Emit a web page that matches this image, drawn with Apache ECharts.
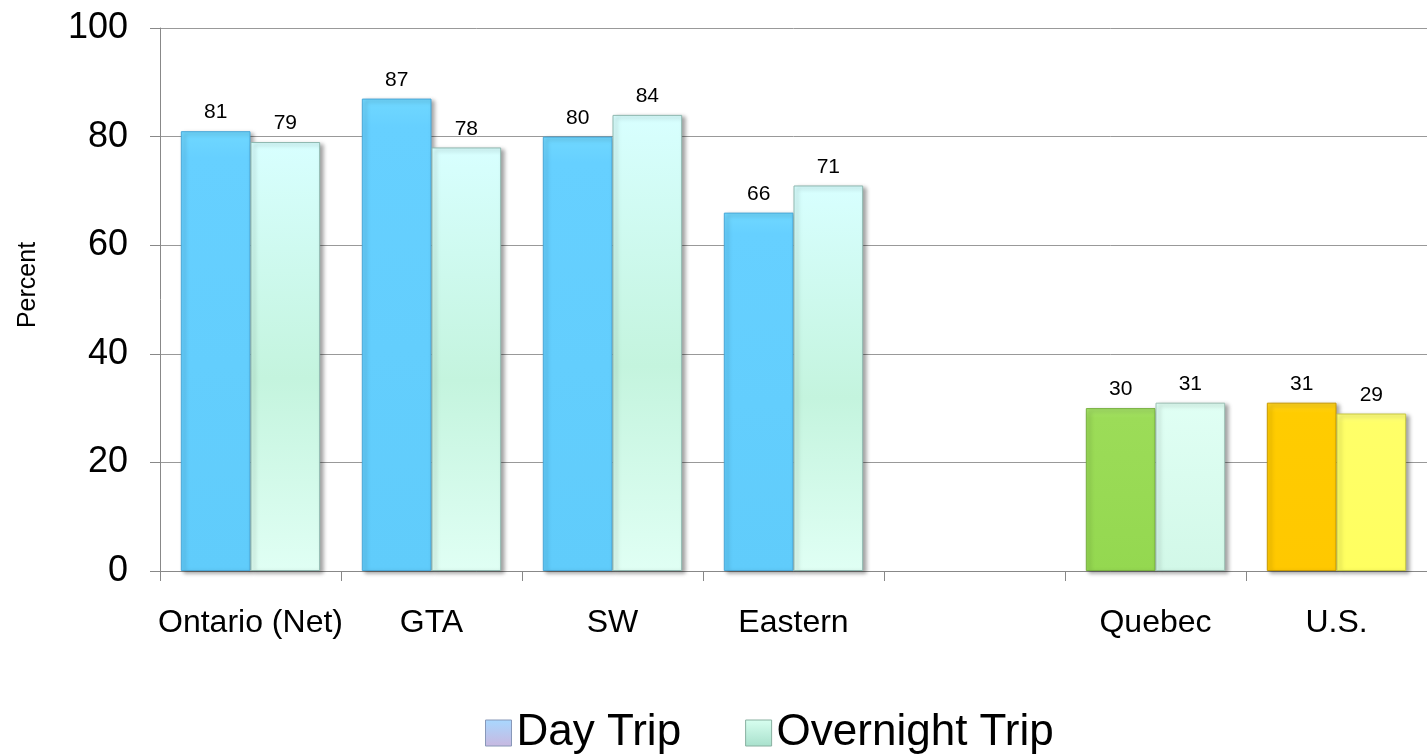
<!DOCTYPE html>
<html>
<head>
<meta charset="utf-8">
<script src="https://cdn.jsdelivr.net/npm/echarts@6/dist/echarts.min.js"></script>
<style>
html,body{margin:0;padding:0;background:#fff;}
#chart{width:1427px;height:756px;}
</style>
</head>
<body>
<div id="chart"></div>
<script>
var categories = ['Ontario (Net)', 'GTA', 'SW', 'Eastern', '', 'Quebec', 'U.S.'];
var dayTrip = [81, 87, 80, 66, null, 30, 31];
var overnightTrip = [79, 78, 84, 71, null, 31, 29];
var yTicks = [0, 20, 40, 60, 80, 100];
var seriesNames = ['Day Trip', 'Overnight Trip'];
var axisName = 'Percent';

var FONT = 'Liberation Sans, Arial, sans-serif';
function vgrad(stops) {
  return new echarts.graphic.LinearGradient(0, 0, 0, 1, stops.map(function (s) { return { offset: s[0], color: s[1] }; }));
}
var blue = vgrad([[0, '#70D8FF'], [0.06, '#66D0FF'], [1, '#60CCFB']]);
var cyan = vgrad([[0, '#D8FFFF'], [0.55, '#C4F4DE'], [1, '#E0FFF4']]);
var greenQ = vgrad([[0, '#A6E468'], [0.06, '#9CDC58'], [1, '#94D850']]);
var cyanQ = vgrad([[0, '#E0FFF4'], [1, '#D2F8E8']]);
var orange = vgrad([[0, '#FFD420'], [0.06, '#FFCC00'], [1, '#FFC800']]);
var yellow = vgrad([[0, '#FFFF80'], [0.06, '#FFFF68'], [1, '#FFFF60']]);

var dayColors = [blue, blue, blue, blue, blue, greenQ, orange];
var dayBorders = ['#4AA8D8', '#4AA8D8', '#4AA8D8', '#4AA8D8', '#4AA8D8', '#78B040', '#C89A00'];
var ovColors = [cyan, cyan, cyan, cyan, cyan, cyanQ, yellow];
var ovBorders = ['#8FB8B0', '#8FB8B0', '#8FB8B0', '#8FB8B0', '#8FB8B0', '#9CC0B4', '#C8C840'];

function build(vals, colors, borders) {
  return vals.map(function (v, i) {
    return {
      value: v === null ? '-' : v,
      itemStyle: { color: colors[i], borderColor: borders[i], borderWidth: 1 }
    };
  });
}

var shadow = { shadowColor: 'rgba(0,0,0,0.35)', shadowBlur: 4, shadowOffsetX: 3, shadowOffsetY: 2 };
var labelStyle = { show: true, position: 'top', distance: 8, fontSize: 21, color: '#000', fontFamily: FONT };

var chart = echarts.init(document.getElementById('chart'), null, { renderer: 'canvas' });
chart.setOption({
  animation: false,
  backgroundColor: '#fff',
  textStyle: { fontFamily: FONT },
  grid: { left: 160, right: -10, top: 28, bottom: 185, containLabel: false },
  graphic: [{
    type: 'text',
    x: 28,
    y: 285,
    rotation: Math.PI / 2,
    style: { text: axisName, fontSize: 25, fill: '#000', align: 'center', verticalAlign: 'middle', fontFamily: FONT }
  }],
  legend: {
    left: 480,
    top: 706,
    itemWidth: 26,
    itemHeight: 26,
    itemGap: 64,
    icon: 'rect',
    textStyle: { fontSize: 44, color: '#000', fontFamily: FONT },
    data: [
      { name: seriesNames[0], itemStyle: { color: vgrad([[0, '#A8D8FF'], [1, '#C8B8E0']]), borderColor: '#8898B8', borderWidth: 1 } },
      { name: seriesNames[1], itemStyle: { color: vgrad([[0, '#D8FFF0'], [1, '#A8E0CC']]), borderColor: '#88B0A0', borderWidth: 1 } }
    ]
  },
  xAxis: {
    type: 'category',
    data: categories,
    axisLine: { lineStyle: { color: '#888', width: 1 } },
    axisTick: { show: true, length: 10, lineStyle: { color: '#888' } },
    axisLabel: { interval: 0, fontSize: 32, color: '#000', margin: 36, fontFamily: FONT }
  },
  yAxis: {
    type: 'value',
    min: yTicks[0],
    max: yTicks[yTicks.length - 1],
    interval: 20,
    axisLine: { show: true, lineStyle: { color: '#888', width: 1 } },
    axisTick: { show: true, length: 10, lineStyle: { color: '#888' } },
    axisLabel: { fontSize: 36, color: '#000', margin: 32 },
    splitLine: { lineStyle: { color: '#999', width: 1 } }
  },
  series: [
    {
      name: seriesNames[0],
      type: 'bar',
      data: build(dayTrip, dayColors, dayBorders),
      barGap: '0%',
      barCategoryGap: '23%',
      label: labelStyle,
      itemStyle: Object.assign({ color: blue }, shadow)
    },
    {
      name: seriesNames[1],
      type: 'bar',
      data: build(overnightTrip, ovColors, ovBorders),
      barGap: '0%',
      barCategoryGap: '23%',
      label: labelStyle,
      itemStyle: Object.assign({ color: cyan }, shadow)
    }
  ]
});
</script>
</body>
</html>
